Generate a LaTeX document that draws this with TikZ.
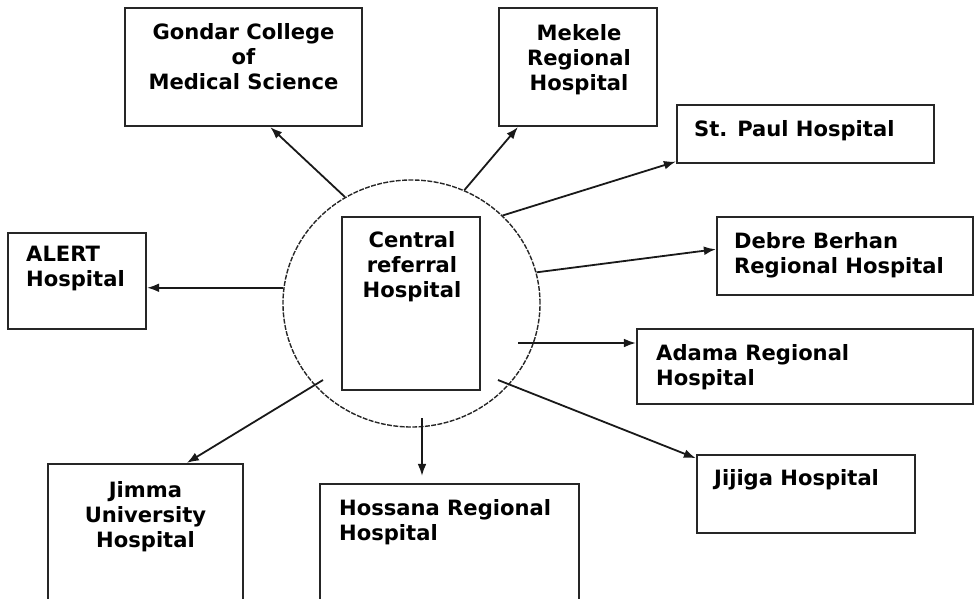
\documentclass[tikz,border=0pt]{standalone}
\usepackage{fontspec}
\setmainfont{DejaVu Sans}
\usetikzlibrary{positioning,shapes.geometric,arrows.meta}

\begin{document}
\begin{tikzpicture}[x=0.25mm,y=-0.25mm,
  box/.style={draw=black!85,line width=0.55mm,inner sep=0pt},
  hosp/.style={font=\bfseries\fontsize{15}{17.8}\selectfont,inner sep=0pt,align=left,anchor=north west},
  hospc/.style={hosp,align=center,anchor=north},
  link/.style={draw=black!90,line width=0.45mm,-{Latex[length=3mm,width=2.2mm]}}]
\useasboundingbox (0,0) rectangle (980,598);
\clip (0,0) rectangle (980,598);
\node[ellipse,draw=black!85,line width=0.35mm,dash pattern=on 3.5pt off 1pt,minimum width=64.25mm,minimum height=61.75mm,inner sep=0pt] (ring) at (411.5,303.5) {};
\node[box,minimum width=59.25mm,minimum height=29.5mm] (gondar) at (243.5,67) {};
\node[box,minimum width=39.5mm,minimum height=29.5mm] (mekele) at (578,67) {};
\node[box,minimum width=64.25mm,minimum height=14.5mm] (stpaul) at (805.5,134) {};
\node[box,minimum width=64mm,minimum height=19.5mm] (debre) at (845,256) {};
\node[box,minimum width=34.5mm,minimum height=24mm] (alert) at (77,281) {};
\node[box,minimum width=34.5mm,minimum height=43.25mm] (central) at (411,303.5) {};
\node[box,minimum width=84mm,minimum height=18.75mm] (adama) at (805,366.5) {};
\node[box,minimum width=54.5mm,minimum height=19.5mm] (jijiga) at (806,494) {};
\node[box,minimum width=48.75mm,minimum height=40mm] (jimma) at (145.5,544) {};
\node[box,minimum width=64.75mm,minimum height=35mm] (hossana) at (449.5,554) {};

\node[hospc] (gondarT) at ([shift={(0,16)}]gondar.north) {Gondar College\\of\\Medical Science};
\node[hospc] (mekeleT) at ([shift={(1,17)}]mekele.north) {Mekele\\Regional\\Hospital};
\node[hosp] (stpaulT) at ([shift={(18,16)}]stpaul.north west) {St. Paul Hospital};
\node[hosp] (debreT) at ([shift={(18,16)}]debre.north west) {Debre Berhan\\Regional Hospital};
\node[hosp] (alertT) at ([shift={(19,14)}]alert.north west) {ALERT\\Hospital};
\node[hospc] (centralT) at ([shift={(1,15)}]central.north) {Central\\referral\\Hospital};
\node[hosp] (adamaT) at ([shift={(20,16)}]adama.north west) {Adama Regional\\Hospital};
\node[hosp] (jijigaT) at ([shift={(18,15)}]jijiga.north west) {Jijiga Hospital};
\node[hospc] (jimmaT) at ([shift={(0,18)}]jimma.north) {Jimma\\University\\Hospital};
\node[hosp] (hossanaT) at ([shift={(20,16)}]hossana.north west) {Hossana Regional\\Hospital};

\coordinate (adamaTail) at (518,343);
\coordinate (jijigaTail) at (498,380);
\coordinate (jimmaTail) at (323,380);
\coordinate (hossanaTail) at (422,418);
\draw[link] (ring.122.5) -- (gondar.-66);
\draw[link] (ring.65) -- (mekele.-135);
\draw[link] (ring.44) -- (stpaul.-168);
\draw[link] (ring.14) -- (debre.177);
\draw[link] (ring.173) -- (ring.173 -| alert.east);
\draw[link] (adamaTail) -- (adamaTail -| adama.west);
\draw[link] (jijigaTail) -- (jijiga.162);
\draw[link] (jimmaTail) -- (jimma.63);
\draw[link,shorten >=1.75mm] (hossanaTail) -- (hossanaTail |- hossana.north);
\end{tikzpicture}
\end{document}
